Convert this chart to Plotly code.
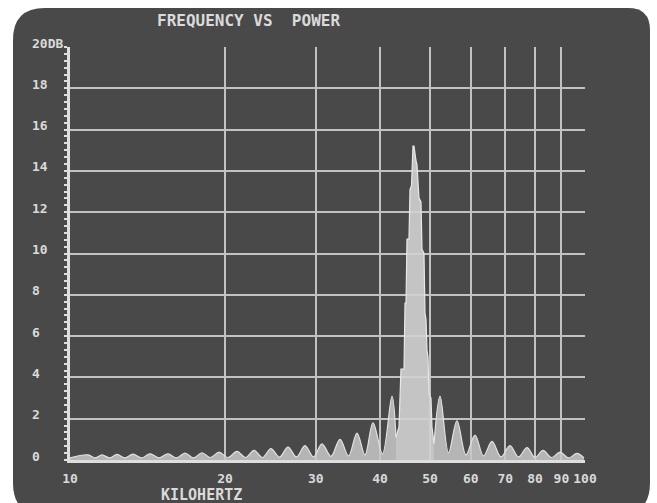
import plotly.graph_objects as go

# ---- data ----
# low-frequency side: hump peaks alternate with valleys (kHz, dB)
freq_low = [10.0, 10.84, 11.18, 11.54, 11.93, 12.34, 12.79, 13.25, 13.77, 14.30,
            14.89, 15.50, 16.10, 16.72, 17.37, 18.04, 18.74, 19.47, 20.27, 21.10,
            21.92, 22.77, 23.65, 24.56, 25.51, 26.50, 27.53, 28.60, 29.70, 30.85,
            32.12, 33.44, 34.74, 36.08, 37.39, 38.76, 40.44, 42.19, 42.95]
power_low = [0.1, 0.25, 0.1, 0.25, 0.1, 0.27, 0.1, 0.28, 0.1, 0.3,
             0.1, 0.3, 0.1, 0.33, 0.1, 0.35, 0.12, 0.38, 0.12, 0.42,
             0.12, 0.47, 0.12, 0.55, 0.14, 0.62, 0.15, 0.7, 0.15, 0.78,
             0.18, 1.0, 0.2, 1.3, 0.25, 1.8, 0.3, 3.1, 1.1]

# main spectral line around 46 kHz
freq_peak = [42.95, 43.53, 43.92, 44.52, 44.72, 44.92, 45.12, 45.52, 45.73, 46.04,
             46.34, 46.55, 46.97, 47.18, 47.60, 48.03, 48.25, 48.68, 48.90, 49.12,
             49.34, 49.56, 49.78, 50.23, 50.45, 50.91]
power_peak = [1.1, 1.6, 4.4, 4.4, 7.6, 7.6, 10.7, 10.7, 13.1, 13.3,
              15.2, 15.2, 14.5, 14.3, 12.7, 12.5, 10.2, 10.0, 7.1, 6.8,
              5.3, 5.0, 3.2, 3.0, 1.6, 0.8]

# high-frequency side
freq_high = [50.91, 52.30, 54.32, 56.42, 58.74, 61.15, 63.52, 65.98, 68.69, 71.51,
             74.28, 77.16, 79.97, 82.88, 86.09, 89.43, 92.89, 96.49, 99.56]
power_high = [0.8, 3.1, 0.35, 1.9, 0.25, 1.2, 0.2, 0.9, 0.15, 0.7,
              0.15, 0.6, 0.12, 0.47, 0.12, 0.38, 0.1, 0.32, 0.1]

x_ticks = [10, 20, 30, 40, 50, 60, 70, 80, 90, 100]
x_labels = ["10", "20", "30", "40", "50", "60", "70", "80", "90", "100"]
y_ticks = [0, 2, 4, 6, 8, 10, 12, 14, 16, 18, 20]
y_labels = ["0", "2", "4", "6", "8", "10", "12", "14", "16", "18", "20DB"]

title_text = "FREQUENCY VS  POWER"
x_title = "KILOHERTZ"

# ---- style ----
SCREEN = "#494949"
GRID = "#c2c2c2"
AXIS = "#dedede"
TEXT = "#dadada"
FONT = "DejaVu Sans Mono"

fig = go.Figure()

fig.add_trace(go.Scatter(x=freq_low, y=power_low, mode="lines",
                         line=dict(shape="spline", color="#e2e2e2", width=1.2),
                         fill="tozeroy", fillcolor="rgba(200,200,200,0.85)",
                         hoverinfo="skip", showlegend=False))
fig.add_trace(go.Scatter(x=freq_high, y=power_high, mode="lines",
                         line=dict(shape="spline", color="#e2e2e2", width=1.2),
                         fill="tozeroy", fillcolor="rgba(200,200,200,0.85)",
                         hoverinfo="skip", showlegend=False))
fig.add_trace(go.Scatter(x=freq_peak, y=power_peak, mode="lines",
                         line=dict(shape="linear", color="#e8e8e8", width=1.2),
                         fill="tozeroy", fillcolor="rgba(210,210,210,0.9)",
                         hoverinfo="skip", showlegend=False))

# rounded CRT screen (paper coordinates)
L, R, T, B = -0.1107, 1.1262, 1.0944, -0.1332
rx, ry = 0.062, 0.0775
rx2, ry2 = 0.043, 0.053
path = (f"M {L+rx},{T} L {R-rx2},{T} Q {R},{T} {R},{T-ry2} "
        f"L {R},{B+ry} Q {R},{B} {R-rx},{B} L {L+rx},{B} Q {L},{B} {L},{B+ry} "
        f"L {L},{T-ry} Q {L},{T} {L+rx},{T} Z")
fig.add_shape(type="path", path=path, xref="paper", yref="paper",
              fillcolor=SCREEN, line=dict(width=0), layer="below")

annotations = []
for v, t in zip(y_ticks, y_labels):
    annotations.append(dict(x=-0.078, xref="paper", y=v, yref="y", text=t,
                            showarrow=False, xanchor="left", yanchor="middle",
                            yshift=4, font=dict(family=FONT, size=13, color=TEXT,
                                                weight="bold")))
annotations.append(dict(x=0.165, xref="paper", y=1.065, yref="paper", text=title_text,
                        showarrow=False, xanchor="left", yanchor="middle",
                        font=dict(family=FONT, size=16, color=TEXT, weight="bold")))
annotations.append(dict(x=0.256, xref="paper", y=-0.084, yref="paper", text=x_title,
                        showarrow=False, xanchor="center", yanchor="middle",
                        font=dict(family=FONT, size=15, color=TEXT, weight="bold")))

fig.update_layout(
    width=657, height=503,
    margin=dict(l=70, r=72, t=47, b=43),
    paper_bgcolor="white",
    plot_bgcolor="rgba(0,0,0,0)",
    showlegend=False,
    annotations=annotations,
    xaxis=dict(type="log", range=[1, 2], tickvals=x_ticks, ticktext=x_labels,
               showgrid=True, gridcolor=GRID, gridwidth=1.5,
               showline=True, linecolor=AXIS, linewidth=3,
               ticks="", ticklabelstandoff=4,
               tickfont=dict(family=FONT, size=13, color=TEXT, weight="bold"),
               zeroline=False),
    yaxis=dict(range=[0, 20], tickvals=y_ticks, showticklabels=False,
               showgrid=True, gridcolor=GRID, gridwidth=1.5,
               showline=True, linecolor=AXIS, linewidth=3,
               ticks="outside", ticklen=3, tickwidth=2, tickcolor=AXIS,
               minor=dict(dtick=1/3, ticks="outside", ticklen=3, tickwidth=2,
                          tickcolor=AXIS, showgrid=False),
               zeroline=False),
)

fig.write_html("out.html", config={"displayModeBar": False},
               post_script="document.body.style.margin='0';document.body.style.padding='0';")
